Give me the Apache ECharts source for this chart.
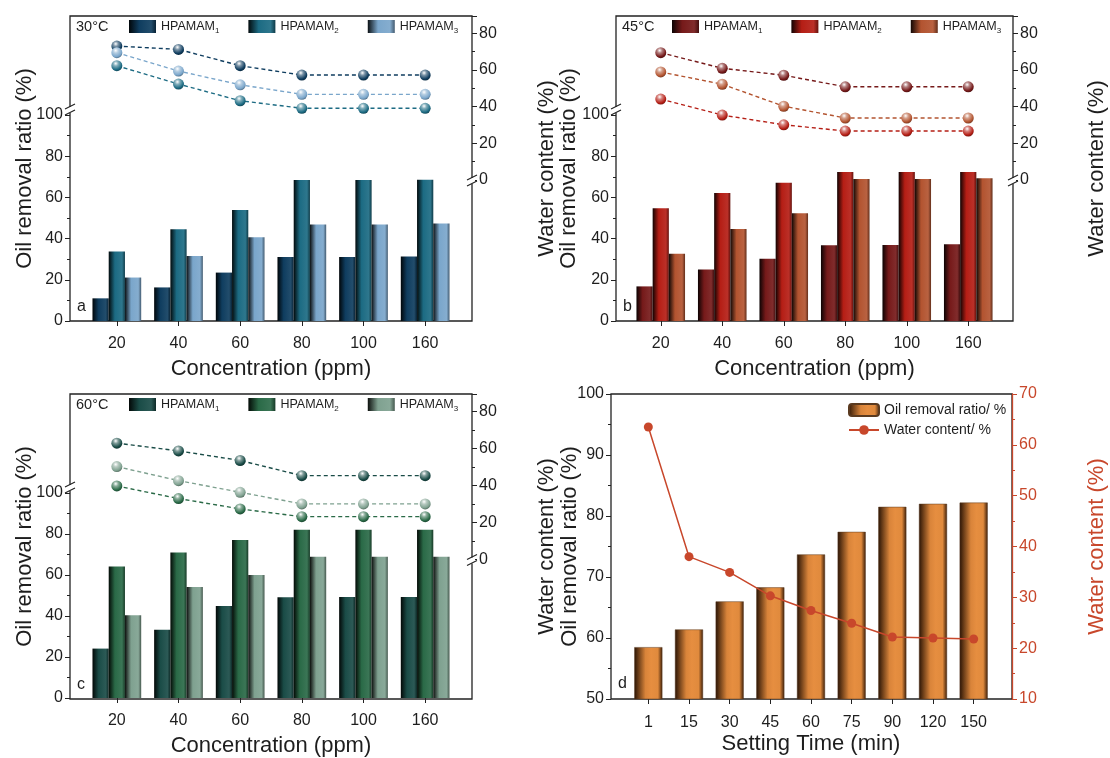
<!DOCTYPE html>
<html><head><meta charset="utf-8">
<script src="https://cdn.jsdelivr.net/npm/echarts@6/dist/echarts.min.js"></script>
<style>html,body{margin:0;padding:0;background:#fff}#chart{width:1110px;height:758px}</style>
</head><body><div id="chart"></div>
<script>
// ---------------- DATA ----------------
const concCats = ['20', '40', '60', '80', '100', '160'];
const timeCats = ['1', '15', '30', '45', '60', '75', '90', '120', '150'];

// 30 °C
const oil30_H1 = [11.0, 16.3, 23.5, 31.1, 31.1, 31.3];
const oil30_H2 = [33.7, 44.5, 53.9, 68.4, 68.5, 68.6];
const oil30_H3 = [21.1, 31.5, 40.6, 46.8, 46.8, 47.3];
const water30_H1 = [73.0, 71.2, 62.3, 57.2, 57.2, 57.2];
const water30_H2 = [62.3, 52.3, 43.2, 39.1, 39.1, 39.1];
const water30_H3 = [69.4, 59.4, 51.9, 46.7, 46.7, 46.7];
// 45 °C
const oil45_H1 = [16.8, 25.0, 30.2, 36.8, 36.9, 37.3];
const oil45_H2 = [54.7, 62.1, 67.1, 72.3, 72.3, 72.3];
const oil45_H3 = [32.6, 44.7, 52.3, 68.9, 68.9, 69.3];
const water45_H1 = [69.4, 60.9, 57.1, 50.8, 50.8, 50.8];
const water45_H2 = [44.1, 35.4, 30.1, 26.7, 26.7, 26.7];
const water45_H3 = [58.9, 52.2, 40.2, 33.8, 33.8, 33.8];
// 60 °C
const oil60_H1 = [24.1, 33.3, 44.9, 49.1, 49.3, 49.3];
const oil60_H2 = [64.2, 71.0, 77.1, 82.1, 82.1, 82.1];
const oil60_H3 = [40.4, 54.2, 60.0, 68.9, 68.9, 68.9];
const water60_H1 = [63.0, 58.8, 53.6, 45.4, 45.4, 45.4];
const water60_H2 = [39.8, 33.0, 27.4, 23.2, 23.2, 23.2];
const water60_H3 = [50.3, 42.7, 36.4, 30.1, 30.1, 30.1];
// Setting time
const oilTime = [58.5, 61.4, 66.0, 68.3, 73.7, 77.4, 81.5, 82.0, 82.2];
const waterTime = [63.5, 38.0, 34.9, 30.3, 27.4, 24.9, 22.2, 22.0, 21.8];

// ---------------- STYLE HELPERS ----------------
const FONT = '"Liberation Sans", Arial, Helvetica, sans-serif';
const TXT = '#1e1e1e';
const AX = '#222';

function hexToRgb(h){h=h.replace('#','');return [parseInt(h.substr(0,2),16),parseInt(h.substr(2,2),16),parseInt(h.substr(4,2),16)];}
function mix(c1,c2,t){const a=hexToRgb(c1),b=hexToRgb(c2);return 'rgb('+a.map((v,i)=>Math.round(v*(1-t)+b[i]*t)).join(',')+')';}
function barGrad(c){
  return {type:'linear',x:0,y:0,x2:1,y2:0,colorStops:[
    {offset:0,color:mix(c,'#000000',0.9)},
    {offset:0.38,color:c},
    {offset:0.82,color:mix(c,'#ffffff',0.08)},
    {offset:1,color:mix(c,'#000000',0.45)}]};
}
function sphere(c){
  return {type:'radial',x:0.4,y:0.3,r:0.75,colorStops:[
    {offset:0,color:'#ffffff'},
    {offset:0.3,color:mix(c,'#ffffff',0.45)},
    {offset:0.75,color:c},
    {offset:1,color:mix(c,'#000000',0.4)}]};
}

const option = {
  animation:false, backgroundColor:'#fff',
  textStyle:{fontFamily:FONT, color:TXT},
  grid:[], xAxis:[], yAxis:[], series:[], legend:[], graphic:[]
};

function tickStyle(color){return {show:true,length:5,lineStyle:{color:color||AX,width:1}};}
function minorStyle(color){return {show:true,splitNumber:2,length:3,lineStyle:{color:color||AX,width:1}};}

function breakMark(x,y){
  return {type:'group',z:100,children:[
    {type:'rect',shape:{x:x-3,y:y-3,width:6,height:6},style:{fill:'#fff'},z:100},
    {type:'line',shape:{x1:x-5,y1:y-1,x2:x+5,y2:y-6},style:{stroke:AX,lineWidth:1.2},z:101},
    {type:'line',shape:{x1:x-5,y1:y+5,x2:x+5,y2:y},style:{stroke:AX,lineWidth:1.2},z:101}
  ]};
}

function addFrame(L,T,W,H,leftName,leftGap,rightName,rightGap,rightColor){
  const g=option.grid.length;
  option.grid.push({left:L,top:T,width:W,height:H,show:true,borderColor:AX,borderWidth:1.3,backgroundColor:'rgba(0,0,0,0)'});
  option.xAxis.push({gridIndex:g,type:'value',show:false,min:0,max:1});
  const hid={axisLine:{show:false},axisTick:{show:false},axisLabel:{show:false},splitLine:{show:false}};
  option.yAxis.push(Object.assign({gridIndex:g,type:'value',position:'left',min:0,max:1,name:leftName,nameLocation:'middle',nameGap:leftGap,nameTextStyle:{fontSize:22,color:TXT,fontFamily:FONT}},hid));
  option.yAxis.push(Object.assign({gridIndex:g,type:'value',position:'right',min:0,max:1,name:rightName,nameLocation:'middle',nameGap:rightGap,nameTextStyle:{fontSize:22,color:rightColor||TXT,fontFamily:FONT}},hid));
}

function addConcPanel(p){
  const {L,T,W,H,bx,bw,barTop,lineH,lineMax,temp,letter,colors,oil,water,legendLeft,leftGap,rightGap} = p;
  addFrame(L,T,W,H,'Oil removal ratio (%)',leftGap,'Water content (%)',rightGap);
  // bar grid
  const gB=option.grid.length;
  option.grid.push({left:bx,top:barTop,width:bw,height:T+H-barTop});
  const xB=option.xAxis.length;
  option.xAxis.push({gridIndex:gB,type:'category',data:concCats,axisLine:{show:false},
    axisTick:Object.assign(tickStyle(),{alignWithLabel:true}),
    axisLabel:{fontSize:16,color:TXT,margin:15,fontFamily:FONT},
    name:'Concentration (ppm)',nameLocation:'middle',nameGap:37,nameTextStyle:{fontSize:22,color:TXT,fontFamily:FONT}});
  const yB=option.yAxis.length;
  option.yAxis.push({gridIndex:gB,type:'value',position:'left',offset:bx-L,min:0,max:100,interval:20,
    axisLine:{show:false},axisTick:tickStyle(),minorTick:minorStyle(),splitLine:{show:false},minorSplitLine:{show:false},
    axisLabel:{fontSize:16,color:TXT,margin:7,fontFamily:FONT}});
  // line grid
  const gL=option.grid.length;
  option.grid.push({left:bx,top:T,width:bw,height:lineH});
  const xL=option.xAxis.length;
  option.xAxis.push({gridIndex:gL,type:'category',data:concCats,show:false});
  const yL=option.yAxis.length;
  option.yAxis.push({gridIndex:gL,type:'value',position:'right',offset:(L+W)-(bx+bw),min:0,max:lineMax,interval:20,
    axisLine:{show:false},axisTick:tickStyle(),minorTick:minorStyle(),splitLine:{show:false},
    axisLabel:{fontSize:16,color:TXT,margin:7,fontFamily:FONT,showMaxLabel:false,
      formatter:v=>(Math.abs(v/20-Math.round(v/20))<1e-6?String(v):'')}});
  const names=[];
  for(let i=0;i<3;i++){
    const nm='HPAMAM'+(i+1)+' ('+temp+')';
    names.push(nm);
    option.series.push({type:'bar',name:nm,xAxisIndex:xB,yAxisIndex:yB,data:oil[i],
      barGap:'0%',barCategoryGap:'21%',itemStyle:{color:barGrad(colors[i])}});
  }
  for(let i=0;i<3;i++){
    option.series.push({type:'line',name:'Water content HPAMAM'+(i+1)+' ('+temp+')',xAxisIndex:xL,yAxisIndex:yL,data:water[i],
      symbol:'circle',symbolSize:11,z:5,
      lineStyle:{color:colors[i],width:1.4,type:[4,3]},
      itemStyle:{color:sphere(colors[i]),borderWidth:0}});
  }
  option.legend.push({data:names,left:legendLeft,top:T+4,padding:0,itemWidth:27,itemHeight:13,itemGap:29,icon:'rect',
    selectedMode:false,
    formatter:name=>'{n|HPAMAM}{s|'+name.charAt(6)+'}',
    textStyle:{color:TXT,fontFamily:FONT,fontSize:12,
      rich:{n:{fontSize:12.5,lineHeight:16,fontFamily:FONT,color:TXT},s:{fontSize:8,lineHeight:9,verticalAlign:'bottom',fontFamily:FONT,color:TXT}}}});
  option.graphic.push({type:'text',x:L+6,y:T+11,style:{text:temp,font:'14.5px '+FONT,fill:TXT,verticalAlign:'middle'}});
  option.graphic.push({type:'text',x:L+7,y:T+H-14,style:{text:letter,font:'16px '+FONT,fill:TXT,verticalAlign:'middle'}});
  option.graphic.push(breakMark(L,barTop-5));
  option.graphic.push(breakMark(L+W,T+lineH+1));
}

addConcPanel({L:70,T:16,W:402,H:305,bx:86,bw:370,barTop:115,lineH:164,lineMax:89.4,temp:'30°C',letter:'a',
  colors:['#0f3d5f','#1c6b83','#7aa6cb'],oil:[oil30_H1,oil30_H2,oil30_H3],water:[water30_H1,water30_H2,water30_H3],
  legendLeft:129,leftGap:34,rightGap:64});
addConcPanel({L:616,T:16,W:397,H:305,bx:630,bw:369,barTop:115,lineH:164,lineMax:89.4,temp:'45°C',letter:'b',
  colors:['#761a1a','#b51e15','#b35430'],oil:[oil45_H1,oil45_H2,oil45_H3],water:[water45_H1,water45_H2,water45_H3],
  legendLeft:672,leftGap:36,rightGap:73});
addConcPanel({L:70,T:394,W:402,H:305,bx:86,bw:370,barTop:493,lineH:165.5,lineMax:89.6,temp:'60°C',letter:'c',
  colors:['#1a4c47','#2a6a47','#7fa190'],oil:[oil60_H1,oil60_H2,oil60_H3],water:[water60_H1,water60_H2,water60_H3],
  legendLeft:129,leftGap:34,rightGap:64});

// Panel d
(function(){
  const L=611,T=394,W=401,H=305,bx=628,bw=366;
  const RED='#c8472b';
  addFrame(L,T,W,H,'Oil removal ratio (%)',30,'Water content (%)',74,RED);
  const g=option.grid.length;
  option.grid.push({left:bx,top:T,width:bw,height:H});
  const xi=option.xAxis.length;
  option.xAxis.push({gridIndex:g,type:'category',data:timeCats,axisLine:{show:false},
    axisTick:Object.assign(tickStyle(),{alignWithLabel:true}),
    axisLabel:{fontSize:16,color:TXT,margin:16,fontFamily:FONT},
    name:'Setting Time (min)',nameLocation:'middle',nameGap:34,nameTextStyle:{fontSize:22,color:TXT,fontFamily:FONT}});
  const yl=option.yAxis.length;
  option.yAxis.push({gridIndex:g,type:'value',position:'left',offset:bx-L,min:50,max:100,interval:10,
    axisLine:{show:false},axisTick:tickStyle(),minorTick:minorStyle(),splitLine:{show:false},
    axisLabel:{fontSize:16,color:TXT,margin:7,fontFamily:FONT}});
  const yr=option.yAxis.length;
  option.yAxis.push({gridIndex:g,type:'value',position:'right',offset:(L+W)-(bx+bw),min:10,max:70,interval:10,
    axisLine:{show:true,lineStyle:{color:RED,width:1.3}},axisTick:tickStyle(RED),minorTick:minorStyle(RED),splitLine:{show:false},
    axisLabel:{fontSize:16,color:RED,margin:7,fontFamily:FONT}});
  option.series.push({type:'bar',name:'Oil removal ratio/ %',xAxisIndex:xi,yAxisIndex:yl,data:oilTime,barCategoryGap:'31%',
    itemStyle:{color:{type:'linear',x:0,y:0,x2:1,y2:0,colorStops:[
      {offset:0,color:'#2a1405'},{offset:0.4,color:'#d9843a'},{offset:0.6,color:'#e68e40'},{offset:0.84,color:'#e08a3d'},{offset:1,color:'#3b1d08'}]},
      borderColor:'#5a3a20',borderWidth:0.5}});
  option.series.push({type:'line',name:'Water content/ %',xAxisIndex:xi,yAxisIndex:yr,data:waterTime,
    symbol:'circle',symbolSize:9,z:5,lineStyle:{color:RED,width:1.5},itemStyle:{color:RED}});
  option.legend.push({data:['Oil removal ratio/ %','Water content/ %'],orient:'vertical',left:848,top:403,padding:0,
    itemWidth:30,itemHeight:12,itemGap:6,selectedMode:false,
    textStyle:{fontSize:14,color:TXT,fontFamily:FONT}});
  option.graphic.push({type:'text',x:L+7,y:T+H-15,style:{text:'d',font:'16px '+FONT,fill:TXT,verticalAlign:'middle'}});
})();

const chart = echarts.init(document.getElementById('chart'), null, {renderer:'canvas'});
chart.setOption(option);
</script>
</body></html>
